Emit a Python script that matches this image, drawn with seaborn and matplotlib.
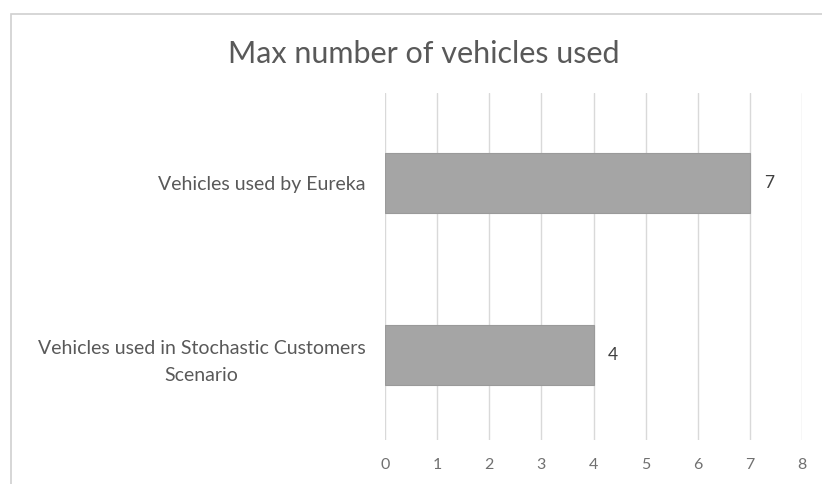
import matplotlib
matplotlib.use("Agg")
import matplotlib.pyplot as plt
import seaborn as sns
import pandas as pd
from matplotlib.patches import Rectangle

categories = ["Vehicles used by Eureka",
              "Vehicles used in Stochastic Customers\nScenario"]
values = [7, 4]
x_ticks = [0, 1, 2, 3, 4, 5, 6, 7, 8]
title = "Max number of vehicles used"

df = pd.DataFrame({"category": categories, "vehicles": values})

sns.set_theme(style="white")
plt.rcParams["font.family"] = ["Lato", "DejaVu Sans"]

text_color = "#595959"
grid_color = "#d9d9d9"
bar_color = "#a5a5a5"

fig = plt.figure(figsize=(8.22, 4.84), dpi=100)
fig.patch.set_facecolor("white")

# chart frame
fig.patches.append(Rectangle((11 / 822, -0.1), 1.2, 1 - 14 / 484 + 0.1,
                             transform=fig.transFigure, fill=False,
                             edgecolor="#d0d0d0", linewidth=1.2, zorder=0))

ax = fig.add_axes([385 / 822, 1 - 440 / 484, (802 - 385) / 822, (440 - 93) / 484])

sns.barplot(data=df, x="vehicles", y="category", orient="h", ax=ax,
            color=bar_color, width=0.35, saturation=1,
            edgecolor="#9a9a9a", linewidth=0.8, zorder=3)

ax.set_xlim(0, 8)
ax.set_ylim(1.494, -0.523)
ax.set_xticks(x_ticks)
ax.set_xticklabels([str(t) for t in x_ticks])
ax.grid(axis="x", color=grid_color, linewidth=1.0, zorder=0)
ax.set_axisbelow(True)
for s in ax.spines.values():
    s.set_visible(False)

ax.set_xlabel("")
ax.set_ylabel("")
ax.tick_params(axis="x", length=0, pad=13, labelsize=11.5, labelcolor="#707070")
ax.tick_params(axis="y", length=0, pad=14, labelsize=14, labelcolor=text_color)
for lbl in ax.get_yticklabels():
    lbl.set_multialignment("center")
    lbl.set_linespacing(1.75)

for cont in ax.containers:
    ax.bar_label(cont, labels=[str(v) for v in values], padding=10,
                 fontsize=12.5, color="#404040")

fig.text(424 / 822, 1 - 54 / 484, title, ha="center", va="center",
         fontsize=22, color=text_color)

fig.savefig("out.png", dpi=100, facecolor="white")
